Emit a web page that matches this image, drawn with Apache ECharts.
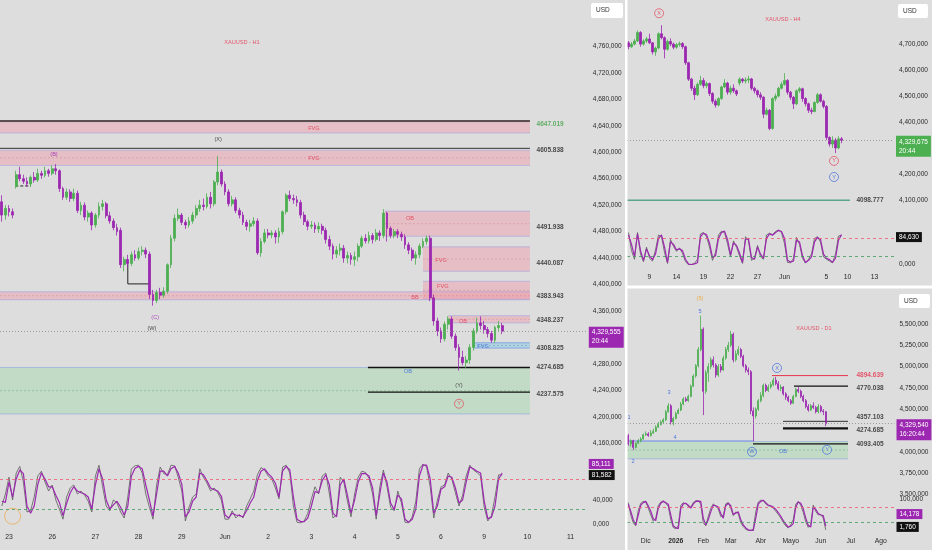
<!DOCTYPE html>
<html><head><meta charset="utf-8">
<script src="https://cdn.jsdelivr.net/npm/echarts@6/dist/echarts.min.js"></script>
<style>html,body{margin:0;padding:0;background:#dddddd;}#c{width:932px;height:550px;}</style>
</head><body><div id="c"></div>
<script>
// ---------------- H1 (left panel) ----------------
// candles: [open, close, low, high]
const h1Candles = [
[4525,4505,4495,4535],[4505,4515,4498,4520],[4515,4510,4503,4520],[4510,4505,4500,4515],
[4548,4566,4545,4572],[4566,4560,4556,4578],[4560,4556,4552,4566],[4556,4552,4548,4562],
[4552,4562,4548,4565],[4562,4558,4554,4570],[4558,4568,4555,4575],[4568,4565,4560,4572],
[4565,4572,4562,4578],[4572,4568,4563,4575],[4568,4575,4565,4580],[4575,4572,4566,4582],
[4572,4545,4540,4574],[4545,4532,4528,4548],[4532,4540,4528,4545],[4540,4530,4525,4544],
[4530,4538,4526,4545],[4538,4512,4508,4542],[4512,4520,4505,4525],[4520,4502,4497,4524],
[4502,4508,4495,4512],[4508,4490,4482,4511],[4490,4505,4486,4508],[4505,4518,4500,4524],
[4518,4522,4512,4528],[4522,4504,4500,4525],[4504,4496,4492,4510],[4496,4486,4482,4500],
[4486,4480,4474,4492],[4482,4430,4425,4486],[4430,4438,4420,4442],[4438,4432,4426,4445],
[4432,4445,4428,4450],[4445,4440,4436,4452],[4440,4450,4437,4456],[4450,4452,4444,4458],
[4452,4446,4440,4456],[4446,4385,4378,4450],[4385,4376,4368,4392],[4376,4388,4372,4392],
[4388,4384,4378,4395],[4384,4390,4380,4396],[4390,4430,4386,4432],[4430,4470,4425,4475],
[4470,4500,4465,4506],[4500,4505,4496,4515],[4505,4494,4490,4508],[4494,4490,4484,4498],
[4490,4496,4486,4502],[4496,4505,4492,4510],[4505,4515,4500,4520],[4515,4520,4510,4528],
[4520,4518,4512,4530],[4518,4532,4515,4538],[4532,4522,4515,4540],[4522,4555,4518,4558],
[4555,4570,4550,4594],[4570,4552,4548,4574],[4552,4540,4535,4556],[4540,4522,4518,4544],
[4522,4528,4518,4534],[4528,4512,4508,4532],[4512,4505,4500,4516],[4505,4494,4490,4510],
[4494,4488,4482,4498],[4488,4492,4480,4498],[4492,4496,4488,4502],[4496,4448,4445,4500],
[4448,4465,4442,4470],[4465,4478,4462,4484],[4478,4475,4470,4484],[4475,4478,4470,4482],
[4478,4472,4462,4482],[4472,4480,4463,4486],[4480,4510,4476,4512],[4510,4535,4506,4538],
[4535,4530,4526,4542],[4530,4528,4522,4536],[4528,4524,4518,4534],[4524,4505,4500,4528],
[4505,4495,4490,4510],[4495,4488,4482,4498],[4488,4490,4484,4496],[4490,4484,4478,4494],
[4484,4488,4478,4494],[4488,4482,4476,4492],[4482,4468,4462,4486],[4468,4458,4452,4474],
[4458,4446,4438,4462],[4446,4452,4440,4458],[4452,4455,4444,4462],[4455,4440,4433,4460],
[4440,4444,4432,4450],[4444,4438,4430,4448],[4438,4442,4428,4450],[4442,4458,4435,4462],
[4458,4470,4455,4474],[4470,4466,4462,4476],[4466,4474,4462,4480],[4474,4468,4462,4478],
[4468,4478,4465,4484],[4478,4474,4466,4482],[4474,4508,4470,4514],[4508,4485,4465,4510],
[4485,4474,4470,4488],[4474,4480,4470,4484],[4480,4476,4470,4484],[4476,4472,4466,4480],
[4472,4460,4454,4476],[4460,4452,4446,4464],[4452,4440,4436,4456],[4440,4445,4430,4450],
[4445,4458,4440,4462],[4458,4465,4455,4470],[4465,4470,4460,4474],[4470,4380,4375,4474],
[4380,4345,4338,4385],[4345,4330,4322,4350],[4330,4318,4312,4335],[4318,4340,4314,4344],
[4340,4348,4332,4352],[4348,4322,4318,4352],[4322,4305,4300,4326],[4305,4290,4270,4310],
[4290,4282,4278,4300],[4282,4286,4274,4292],[4286,4305,4280,4310],[4305,4330,4300,4334],
[4330,4342,4326,4350],[4342,4338,4332,4352],[4338,4332,4326,4345],[4332,4326,4320,4336],
[4326,4316,4312,4330],[4316,4335,4312,4338],[4335,4338,4330,4345],[4338,4329.555,4325,4342]
];
const h1OscD = [38,36,70,45,75,90,84,30,18,30,66,85,75,62,62,48,36,14,34,52,62,55,52,50,45,25,65,92,75,40,
25,32,38,28,15,30,80,93,96,92,65,40,13,50,88,88,80,92,96,85,66,12,20,38,45,85,82,72,60,57,
55,46,15,10,18,15,14,12,22,35,45,72,88,92,84,78,68,45,88,96,90,45,8,4,4,10,30,54,52,72,
82,65,18,12,65,75,48,18,40,70,84,84,80,60,14,50,85,70,35,24,48,42,8,3,8,25,80,98,98,75,
18,30,58,62,80,78,60,35,40,70,95,92,88,85,38,9,11,30,75,85.111];
const h1OscK = [30,50,78,40,85,96,70,20,22,45,80,88,70,55,65,40,25,8,45,60,65,50,55,48,38,20,80,98,62,30,
22,40,35,20,10,45,92,97,98,85,50,28,8,65,95,84,82,98,97,78,55,5,28,45,50,92,78,68,55,60,
52,40,8,8,22,10,16,10,30,42,55,82,94,90,80,75,60,42,95,98,85,30,3,2,5,18,42,62,50,80,
85,50,10,15,78,70,38,12,50,78,88,86,76,50,8,62,90,62,28,22,55,35,3,2,12,38,92,100,95,62,
10,40,62,65,85,75,52,30,48,80,98,90,86,80,28,5,14,45,82,81.582];
const h1TickIdx = [2,14,26,38,50,62,74,86,98,110,122,134,146,158];
const h1TickText = ['23','26','27','28','29','Jun','2','3','4','5','6','9','10','11'];
// zones: [x0, x1, top, bottom, style, dashedMid]
const h1Zones = [
[-0.5,146.7,4646,4629,0,0],[-0.5,146.7,4603,4580,0,1],[106.4,146.7,4511,4473,0,1],
[117,146.7,4457,4420,0,1],[117,146.7,4405,4378,0,1],[-0.5,146.7,4389,4377,0,1],
[124,146.7,4353,4342,0,1],[130.9,146.7,4312,4304,2,1],[-0.5,146.7,4274.7,4204.5,1,1]
];
// levels: [x0, x1, price, style]
const h1Levels = [[-0.5,146.7,4647.019,0],[-0.5,146.7,4605.838,1],[101.7,146.7,4274.685,2],[101.7,146.7,4237.575,2]];
const h1BracketA = [[35,4435],[35,4401],[40.9,4401]];
const h1BracketB = [[3.9,4565],[3.9,4549],[8.1,4549]];
const h1Texts = [
['XAUUSD - H1',66.7,4766,'red','c'],['FVG',86.7,4636,'red','c'],['(X)',60.1,4619,'black','c'],
['(B)',14.5,4596,'purple','c'],['FVG',86.7,4590,'red','c'],['OB',113.4,4500,'red','c'],
['FVG',122,4436,'red','c'],['FVG',122.5,4397,'red','c'],['BB',114.8,4381,'red','c'],
['OB',128.1,4345,'red','c'],['FVG',133.7,4306,'blue','c'],['(C)',42.6,4351,'purple','c'],
['(W)',41.7,4334,'black','c'],['OB',112.8,4268,'blue','c'],['(Y)',127,4247,'black','c'],
['Y',127,4220,'red','o'],
['4647.019',148.4,4643,'green','t'],['4605.838',148.4,4603,'black','t'],['4491.938',148.4,4487,'black','t'],
['4440.087',148.4,4432,'black','t'],['4383.943',148.4,4382,'black','t'],['4348.237',148.4,4346,'black','t'],
['4308.825',148.4,4304,'black','t'],['4274.685',148.4,4274.7,'black','t'],['4237.575',148.4,4235,'black','t']
];
const h1Timer = '20:44';

// ---------------- H4 (top right) ----------------
const h4Candles = [
[4705,4690,4680,4712],[4690,4700,4686,4708],[4700,4712,4695,4720],[4712,4745,4708,4752],
[4745,4700,4690,4750],[4700,4712,4694,4718],[4712,4720,4705,4728],[4720,4705,4700,4740],
[4705,4670,4660,4708],[4670,4685,4655,4690],[4685,4740,4680,4745],[4740,4725,4718,4773],
[4725,4680,4645,4730],[4680,4710,4675,4718],[4710,4700,4692,4722],[4700,4688,4680,4706],
[4688,4698,4682,4704],[4698,4702,4690,4710],[4702,4690,4682,4708],[4690,4628,4620,4694],
[4628,4565,4558,4632],[4565,4530,4520,4570],[4530,4505,4485,4540],[4505,4545,4500,4552],
[4545,4560,4540,4578],[4560,4540,4530,4570],[4540,4548,4530,4556],[4548,4510,4500,4552],
[4510,4480,4470,4515],[4480,4465,4455,4488],[4465,4490,4460,4495],[4490,4535,4485,4540],
[4535,4550,4530,4565],[4550,4515,4505,4555],[4515,4530,4505,4540],[4530,4520,4512,4545],
[4520,4508,4500,4525],[4550,4565,4540,4572],[4565,4558,4550,4570],[4558,4562,4548,4572],
[4562,4566,4550,4578],[4566,4530,4522,4570],[4530,4520,4510,4536],[4520,4505,4495,4525],
[4505,4495,4485,4515],[4495,4430,4415,4500],[4430,4445,4425,4455],[4445,4375,4368,4450],
[4375,4490,4370,4495],[4490,4500,4480,4510],[4500,4530,4495,4535],[4530,4545,4525,4555],
[4545,4560,4540,4588],[4560,4515,4505,4565],[4515,4495,4485,4520],[4495,4470,4450,4500],
[4470,4520,4465,4525],[4520,4528,4512,4535],[4528,4490,4478,4532],[4490,4470,4460,4495],
[4470,4445,4435,4475],[4445,4440,4430,4455],[4440,4475,4438,4480],[4475,4505,4470,4512],
[4505,4480,4475,4510],[4480,4460,4452,4486],[4460,4340,4330,4465],[4340,4315,4305,4345],
[4315,4330,4300,4345],[4330,4300,4280,4338],[4300,4335,4295,4345],[4335,4329.675,4318,4342]
];
const h4OscD = [85,58,23,88,40,12,45,25,14,30,75,85,50,6,65,58,42,45,40,15,1,0,2,5,80,90,86,62,20,25,
75,92,96,72,28,62,55,33,6,72,74,20,15,50,30,18,75,88,84,92,98,95,75,12,7,10,70,65,25,6,
12,22,65,78,72,30,18,14,6,18,70,86];
const h4OscK = [92,40,15,92,30,8,50,18,10,42,85,80,35,3,72,52,38,48,32,8,0,0,3,15,88,92,80,50,12,35,
85,96,92,60,22,68,50,25,3,80,68,12,18,55,22,15,85,90,86,95,99,92,60,6,5,18,78,58,18,4,
15,30,75,80,65,22,15,10,5,30,82,84.63];
const h4TickIdx = [7,16,25,34,43,52,66,73,82];
const h4TickText = ['9','14','19','22','27','Jun','5','10','13'];
const h4Levels = [[-0.5,73.8,4098.777,3]];
const h4Texts = [
['XAUUSD - H4',51.5,4796,'red','c'],['X',10.2,4819,'red','o'],['Y',68.5,4250,'red','o'],
['Y',68.5,4188,'blue','o'],['4098.777',75.8,4100,'black','t']
];
const h4Timer = '20:44';

// ---------------- D1 (bottom right) ----------------
const d1Candles = [
[4190,4090,4070,4210],[4090,4130,4060,4145],[4130,4050,4020,4140],[4050,4100,4040,4110],
[4100,4130,4090,4150],[4130,4150,4110,4170],[4150,4200,4140,4215],[4200,4210,4185,4240],
[4210,4190,4175,4230],[4190,4220,4180,4255],[4220,4240,4210,4270],[4240,4290,4230,4310],
[4290,4320,4280,4350],[4320,4350,4310,4370],[4350,4375,4335,4395],[4375,4470,4360,4490],
[4470,4540,4460,4570],[4540,4350,4320,4560],[4350,4390,4310,4410],[4390,4450,4380,4470],
[4450,4490,4440,4510],[4490,4560,4475,4585],[4560,4620,4545,4640],[4620,4600,4585,4645],
[4600,4650,4585,4670],[4650,4770,4640,4790],[4770,4890,4760,4910],[4890,5010,4870,5030],
[5010,5200,4990,5230],[5200,5440,5180,5600],[5440,4710,4430,5460],[4710,4930,4680,4960],
[4930,5000,4820,5040],[5000,5080,4970,5110],[5080,5020,4990,5120],[5020,4900,4870,5040],
[4900,5000,4880,5030],[5000,4960,4930,5030],[4960,5100,4950,5130],[5100,5200,5080,5230],
[5200,5250,5170,5290],[5250,5380,5230,5420],[5380,5080,5050,5400],[5080,5150,5060,5190],
[5150,5200,5130,5240],[5200,5120,5100,5220],[5120,5010,4990,5140],[5010,4960,4930,5030],
[4960,4940,4900,4990],[4940,4480,4440,4960],[4480,4420,4120,4520],[4420,4500,4390,4520],
[4500,4600,4480,4620],[4600,4660,4580,4700],[4660,4780,4640,4800],[4780,4720,4700,4800],
[4720,4760,4700,4790],[4760,4790,4740,4820],[4790,4840,4770,4870],[4840,4800,4780,4880],
[4800,4740,4720,4830],[4740,4760,4710,4790],[4760,4680,4660,4770],[4680,4640,4610,4700],
[4640,4600,4580,4660],[4600,4570,4550,4620],[4570,4650,4560,4670],[4650,4730,4640,4750],
[4730,4710,4690,4760],[4710,4650,4630,4730],[4650,4600,4580,4670],[4600,4530,4510,4620],
[4530,4490,4470,4560],[4490,4540,4480,4560],[4540,4520,4500,4580],[4520,4470,4450,4540],
[4470,4530,4450,4560],[4530,4480,4460,4550],[4480,4470,4430,4500],[4470,4329.54,4300,4480]
];
const d1OscD = [85,62,35,18,50,82,90,94,80,62,38,32,72,88,94,90,85,50,15,9,6,70,86,88,82,72,85,94,95,94,
40,18,35,60,82,80,76,55,40,80,88,80,52,56,60,35,18,8,2,0,0,40,85,94,98,90,82,80,76,68,
58,46,32,20,11,14,22,75,92,88,70,40,16,11,76,68,55,50,48,14.178];
const d1OscK = [90,50,25,15,65,88,94,92,72,50,30,40,80,92,96,88,78,35,10,5,15,80,90,86,78,75,90,96,96,85,
25,15,45,72,86,78,70,45,48,86,90,72,48,60,55,25,12,4,0,0,5,60,92,98,96,86,80,78,72,62,
52,40,26,15,8,18,35,85,94,82,58,28,10,20,82,62,50,52,40,1.76];
const d1TickIdx = [7,19,30,41,53,65,77,89,101];
const d1TickText = ['Dic','2026','Feb','Mar','Abr','Mayo','Jun','Jul','Ago'];
const d1Zones = [[-0.5,87.9,4120,3917,1,1]];
const d1Levels = [[57.5,87.9,4894.639,4],[66.3,87.9,4770.038,2],[61.9,87.9,4357.103,1],
[61.9,87.9,4274.685,6],[49.9,87.9,4093.405,2],[-0.5,49.9,4128,5]];
const d1Texts = [
['XAUUSD - D1',74.3,5453,'red','c'],['(5)',28.7,5805,'orange','c'],['5',28.7,5652,'blue','c'],
['3',16.3,4691,'blue','c'],['1',0.3,4398,'blue','c'],['4',18.7,4163,'blue','c'],['2',1.9,3882,'blue','c'],
['X',59.5,4984,'blue','o'],['W',49.5,3999,'blue','o'],['OB',61.9,3999,'blue','c'],['Y',79.5,4023,'blue','o'],
['4894.639',91.1,4894.6,'red','t'],['4770.038',91.1,4752,'black','t'],['4357.103',91.1,4405,'black','t'],
['4274.685',91.1,4255,'black','t'],['4093.405',91.1,4090,'black','t']
];
const d1Timer = '16:20:44';

// ---------------- styling ----------------
const FONT = '"Liberation Sans", Arial, sans-serif';
const COL = {up:'#4caf50', down:'#9c27b0', red:'#e5354d', black:'#1e1e1e', purple:'#9c27b0',
  blue:'#2f5fe0', green:'#43a047', orange:'#f0a020', axis:'#2a2a2a'};
const CLEAR = 'rgba(0,0,0,0)';
const ZS = [
  {fill:'rgba(240,150,165,0.42)', border:'rgba(140,150,230,0.55)', mid:'rgba(200,100,120,0.45)'},
  {fill:'rgba(150,215,160,0.38)', border:'rgba(120,150,230,0.6)', mid:'rgba(80,160,100,0.55)'},
  {fill:'rgba(150,205,225,0.6)', border:'rgba(80,130,230,0.7)', mid:'rgba(60,120,200,0.5)'}
];
const LS = [
  {color:'#5a4e4e', width:2}, {color:'#333', width:1}, {color:'#111', width:1.3},
  {color:'#5aa58a', width:1.5}, {color:'#e5354d', width:1}, {color:'#6f8ee8', width:0.8},
  {color:'#111', width:2.2}
];
function fmt3(v){ const s = Number(v).toFixed(3).split('.'); return s[0].replace(/\B(?=(\d{3})+(?!\d))/g, ',') + ',' + s[1]; }

const grids = [], xAxes = [], yAxes = [], series = [];

function addPanel(cfg) {
  const W = cfg.catW * cfg.n;
  const gM = grids.length; grids.push({left:cfg.left, top:cfg.mainTop, width:W, height:cfg.mainH});
  const gO = grids.length; grids.push({left:cfg.left, top:cfg.oscTop, width:W, height:cfg.oscH});
  const cats = Array.from({length:cfg.n}, (_, i) => String(i));
  const xM = xAxes.length; xAxes.push({type:'category', gridIndex:gM, data:cats, show:false});
  const xO = xAxes.length; xAxes.push({type:'category', gridIndex:gO, data:cats,
    axisLine:{show:false}, axisTick:{show:false}, splitLine:{show:false},
    axisLabel:{interval:(i)=>cfg.ticks.indexOf(i) >= 0, margin:cfg.xMargin, fontSize:6.8, color:COL.axis,
      formatter:(v)=>{ const t = cfg.tickText[cfg.ticks.indexOf(Number(v))]; return t === '2026' ? '{b|2026}' : t; },
      rich:{b:{fontWeight:'bold', fontSize:6.8, color:COL.axis}}}});
  const xA = xAxes.length; xAxes.push({type:'value', gridIndex:gM, min:-0.5, max:cfg.n-0.5, show:false});
  const yM = yAxes.length; yAxes.push({type:'value', gridIndex:gM, position:'right', min:cfg.yMin, max:cfg.yMax,
    interval:10, splitLine:{show:false}, axisLine:{show:false}, axisTick:{show:false},
    axisLabel:{margin:cfg.yMargin, fontSize:6.5, color:COL.axis, formatter:(v)=>cfg.showY(v) ? fmt3(v) : ''}});
  const yO = yAxes.length; yAxes.push({type:'value', gridIndex:gO, position:'right', min:cfg.oMin, max:cfg.oMax,
    interval:cfg.oInt, splitLine:{show:false}, axisLine:{show:false}, axisTick:{show:false},
    axisLabel:{margin:cfg.yMargin, fontSize:6.5, color:COL.axis, formatter:(v)=>cfg.showO(v) ? fmt3(v) : ''}});

  const last = cfg.candles[cfg.candles.length-1][1];
  if (cfg.zones.length) series.push({type:'custom', xAxisIndex:xA, yAxisIndex:yM, z:1, silent:true,
    data: cfg.zones.map(z => [z[0], z[1], z[2], z[3]]), encode:{x:[0,1], y:[2,3]},
    renderItem:(params, api) => {
      const z = cfg.zones[params.dataIndex], st = ZS[z[4]];
      const a = api.coord([z[0], z[2]]), b = api.coord([z[1], z[3]]);
      const ch = [
        {type:'rect', shape:{x:a[0], y:a[1], width:b[0]-a[0], height:b[1]-a[1]}, style:{fill:st.fill}},
        {type:'line', shape:{x1:a[0], y1:a[1], x2:b[0], y2:a[1]}, style:{stroke:st.border, lineWidth:0.8}},
        {type:'line', shape:{x1:a[0], y1:b[1], x2:b[0], y2:b[1]}, style:{stroke:st.border, lineWidth:0.8}}
      ];
      if (z[5]) { const m = (a[1]+b[1])/2; ch.push({type:'line', shape:{x1:a[0], y1:m, x2:b[0], y2:m}, style:{stroke:st.mid, lineWidth:0.7, lineDash:[2,2]}}); }
      return {type:'group', children:ch};
    }});
  if (cfg.levels.length) series.push({type:'custom', xAxisIndex:xA, yAxisIndex:yM, z:2, silent:true,
    data: cfg.levels.map(l => [l[0], l[1], l[2]]), encode:{x:[0,1], y:2},
    renderItem:(params, api) => {
      const l = cfg.levels[params.dataIndex], st = LS[l[3]];
      const a = api.coord([l[0], l[2]]), b = api.coord([l[1], l[2]]);
      return {type:'line', shape:{x1:a[0], y1:a[1], x2:b[0], y2:b[1]}, style:{stroke:st.color, lineWidth:st.width}};
    }});
  (cfg.paths || []).forEach(p => series.push({type:'line', xAxisIndex:xA, yAxisIndex:yM, z:2, silent:true,
    data:p.pts, symbol:'none', lineStyle:{color:'#222', width:1, type:p.dash ? [3,2] : 'solid'}}));
  series.push({type:'candlestick', xAxisIndex:xM, yAxisIndex:yM, z:3, data:cfg.candles, barWidth:cfg.barW,
    itemStyle:{color:COL.up, color0:COL.down, borderColor:COL.up, borderColor0:COL.down, borderWidth:0.8},
    markLine:{symbol:'none', silent:true, animation:false, data:[{yAxis:last,
      lineStyle:{color:'#8a8a8a', type:[1,2], width:0.8},
      label:{show:true, position:'end', distance:2, formatter:fmt3(last) + '\n' + cfg.timer,
        backgroundColor:cfg.boxColor, color:'#fff', fontSize:6.5, lineHeight:9, padding:[2,3,1,3], offset:[0,6]}}]}});
  series.push({type:'scatter', xAxisIndex:xA, yAxisIndex:yM, z:5, silent:true,
    data: cfg.texts.map(t => ({value:[t[1], t[2]],
      symbol: t[4] === 'o' ? 'circle' : 'rect', symbolSize: t[4] === 'o' ? 9 : 1,
      itemStyle: t[4] === 'o' ? {color:CLEAR, borderColor:COL[t[3]], borderWidth:0.8} : {color:CLEAR},
      label:{show:true, formatter:t[0], color:COL[t[3]], position: t[4] === 't' ? 'right' : 'inside', distance:0,
        fontSize: t[4] === 't' ? 6.5 : 5.6, fontWeight: t[4] === 't' ? 'bold' : 'normal'}}))});
  // oscillator
  const boxLbl = (txt, bg, off) => ({show:true, position:'end', distance:2, formatter:txt, backgroundColor:bg,
    color:'#ffffff', fontSize:6.5, padding:[2,3,1,3], offset:[0, off]});
  const kLast = cfg.oscK[cfg.oscK.length-1], dLast = cfg.oscD[cfg.oscD.length-1];
  series.push({type:'line', xAxisIndex:xO, yAxisIndex:yO, data:cfg.oscK, symbol:'none', z:3,
    lineStyle:{color:'#5a5a5a', width:0.8}});
  series.push({type:'line', xAxisIndex:xO, yAxisIndex:yO, data:cfg.oscD, symbol:'none', z:4,
    lineStyle:{color:'#9c27b0', width:1.2},
    markLine:{symbol:'none', silent:true, animation:false, label:{show:false},
      lineStyle:{color:'#ef5a70', type:[3,3], width:0.8},
      data:[{yAxis:75, lineStyle:{color:'#ef5a70', type:[3,3], width:0.8}},
            {yAxis:25, lineStyle:{color:'#3f9a5a', type:[3,3], width:0.8}}]}});
  // last-value tags of the oscillator (line invisible, label visible)
  const tags = [{yAxis:kLast, lineStyle:{color:CLEAR, width:0}, label:boxLbl(fmt3(kLast), '#111111', cfg.kOff)}];
  if (cfg.dOff !== null) tags.push({yAxis:dLast, lineStyle:{color:CLEAR, width:0}, label:boxLbl(fmt3(dLast), COL.purple, cfg.dOff)});
  series.push({type:'line', xAxisIndex:xO, yAxisIndex:yO, data:[], symbol:'none', z:6,
    markLine:{symbol:'none', silent:true, animation:false, data:tags}});
  (cfg.oscMarks || []).forEach(m => series.push({type:'scatter', xAxisIndex:xO, yAxisIndex:yO, silent:true,
    data:[m], symbolSize:16, itemStyle:{color:CLEAR, borderColor:'#f0a030', borderWidth:0.8}}));
}

addPanel({left:0, catW:3.6, n:163, mainTop:0, mainH:450, oscTop:458, oscH:72, yMin:4150, yMax:4830,
  oMin:-10, oMax:110, oInt:10, xMargin:4, yMargin:6, barW:2.4,
  showY:(v)=> v % 40 === 0 && v >= 4160 && v <= 4760 && v !== 4320,
  showO:(v)=> v === 0 || v === 40,
  candles:h1Candles, oscK:h1OscK, oscD:h1OscD, ticks:h1TickIdx, tickText:h1TickText,
  zones:h1Zones, levels:h1Levels, texts:h1Texts, timer:h1Timer, boxColor:COL.purple,
  paths:[{pts:h1BracketA, dash:false}, {pts:h1BracketB, dash:true}],
  oscMarks:[[3, 13]], kOff:0, dOff:-9});
addPanel({left:627, catW:3, n:89, mainTop:0, mainH:218, oscTop:228, oscH:40, yMin:4030, yMax:4870,
  oMin:-10, oMax:105, oInt:5, xMargin:6, yMargin:5, barW:2,
  showY:(v)=> v % 100 === 0 && v >= 4100 && v <= 4700 && v !== 4300,
  showO:(v)=> v === 0,
  candles:h4Candles, oscK:h4OscK, oscD:h4OscD, ticks:h4TickIdx, tickText:h4TickText,
  zones:[], levels:h4Levels, texts:h4Texts, timer:h4Timer, boxColor:'#4caf50', kOff:2, dOff:null});
addPanel({left:627, catW:2.5, n:107, mainTop:290, mainH:206, oscTop:498, oscH:34, yMin:3480, yMax:5900,
  oMin:-5, oMax:105, oInt:5, xMargin:6, yMargin:5, barW:1.6,
  showY:(v)=> v % 250 === 0 && v >= 3500 && v <= 5500 && v !== 4250,
  showO:(v)=> v === 100,
  candles:d1Candles, oscK:d1OscK, oscD:d1OscD, ticks:d1TickIdx, tickText:d1TickText,
  zones:d1Zones, levels:d1Levels, texts:d1Texts, timer:d1Timer, boxColor:COL.purple, kOff:-3, dOff:-12});

function usdBox(x, y, w, h) {
  return {type:'group', x:x, y:y, z:100, children:[
    {type:'rect', shape:{x:0, y:0, width:w, height:h, r:2}, style:{fill:'#ffffff'}},
    {type:'text', x:5, y:(h-7)/2, style:{text:'USD', fontSize:6.5, fill:'#333', fontFamily:FONT}}]};
}

const chart = echarts.init(document.getElementById('c'), null, {renderer:'canvas'});
chart.setOption({
  animation:false,
  backgroundColor:'#dddddd',
  textStyle:{fontFamily:FONT},
  grid:grids, xAxis:xAxes, yAxis:yAxes, series:series,
  graphic:[
    {type:'rect', x:625, y:0, z:100, shape:{width:2.5, height:550}, style:{fill:'#ffffff'}},
    {type:'rect', x:627, y:285.5, z:100, shape:{width:305, height:3}, style:{fill:'#ffffff'}},
    usdBox(591, 3, 32, 15), usdBox(898, 4, 30, 14), usdBox(899, 294, 31, 14)
  ]
});
</script></body></html>
